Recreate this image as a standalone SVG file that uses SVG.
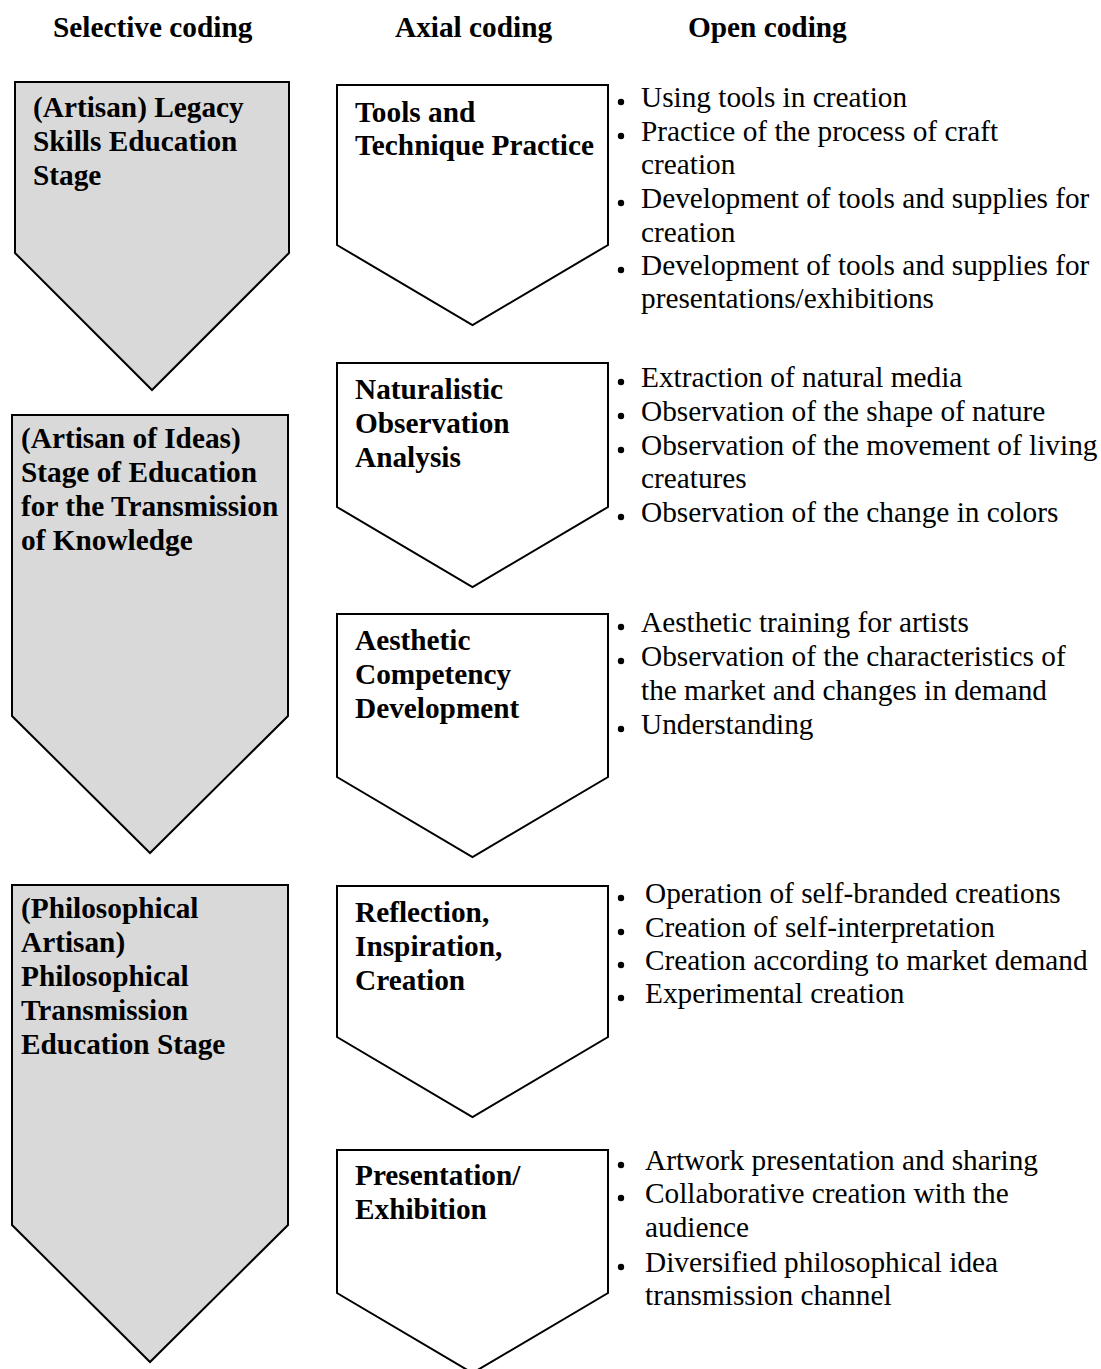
<svg xmlns="http://www.w3.org/2000/svg" width="1101" height="1369" viewBox="0 0 1101 1369">
<style>
.hd{font-family:"Liberation Serif","Times New Roman",serif;font-weight:bold;font-size:29.3px;fill:#000}
.b{font-family:"Liberation Serif","Times New Roman",serif;font-weight:bold;font-size:29.3px;fill:#000}
.t{font-family:"Liberation Serif","Times New Roman",serif;font-size:29.3px;fill:#000}
.sel{fill:#d9d9d9;stroke:#000;stroke-width:2;stroke-linejoin:miter}
.ax{fill:#fff;stroke:#000;stroke-width:2;stroke-linejoin:miter}
.dot{fill:#000}
</style>
<rect width="1101" height="1369" fill="#fff"/>
<g id="headers">
<text class="hd" x="53" y="37">Selective coding</text>
<text class="hd" x="395" y="37">Axial coding</text>
<text class="hd" x="688" y="37">Open coding</text>
</g>
<g id="connectors"></g>
<g id="sel1">
<polygon class="sel" points="15,82 289,82 289,253 152,390 15,253"/>
<text class="b" x="33" y="117">(Artisan) Legacy</text>
<text class="b" x="33" y="151">Skills Education</text>
<text class="b" x="33" y="185">Stage</text>
</g>
<g id="sel2">
<polygon class="sel" points="12,415 288,415 288,716 150,853 12,716"/>
<text class="b" x="21" y="448">(Artisan of Ideas)</text>
<text class="b" x="21" y="482">Stage of Education</text>
<text class="b" x="21" y="516">for the Transmission</text>
<text class="b" x="21" y="550">of Knowledge</text>
</g>
<g id="sel3">
<polygon class="sel" points="12,885 288,885 288,1225 150,1362 12,1225"/>
<text class="b" x="21" y="918">(Philosophical</text>
<text class="b" x="21" y="952">Artisan)</text>
<text class="b" x="21" y="986">Philosophical</text>
<text class="b" x="21" y="1020">Transmission</text>
<text class="b" x="21" y="1054">Education Stage</text>
</g>
<g id="ax1">
<polygon class="ax" points="337,85 608,85 608,245 472.5,325 337,245"/>
<text class="b" x="355" y="122">Tools and</text>
<text class="b" x="355" y="155">Technique Practice</text>
</g>
<g id="ax2">
<polygon class="ax" points="337,363 608,363 608,507 472.5,587 337,507"/>
<text class="b" x="355" y="399">Naturalistic</text>
<text class="b" x="355" y="433">Observation</text>
<text class="b" x="355" y="467">Analysis</text>
</g>
<g id="ax3">
<polygon class="ax" points="337,614 608,614 608,777 472.5,857 337,777"/>
<text class="b" x="355" y="650">Aesthetic</text>
<text class="b" x="355" y="684">Competency</text>
<text class="b" x="355" y="718">Development</text>
</g>
<g id="ax4">
<polygon class="ax" points="337,886 608,886 608,1037 472.5,1117 337,1037"/>
<text class="b" x="355" y="922">Reflection,</text>
<text class="b" x="355" y="956">Inspiration,</text>
<text class="b" x="355" y="990">Creation</text>
</g>
<g id="ax5">
<polygon class="ax" points="337,1150 608,1150 608,1293 472.5,1373 337,1293"/>
<text class="b" x="355" y="1185">Presentation/</text>
<text class="b" x="355" y="1219">Exhibition</text>
</g>
<g id="open1">
<circle class="dot" cx="621" cy="102" r="3.2"/>
<text class="t" x="641" y="107">Using tools in creation</text>
<circle class="dot" cx="621" cy="136" r="3.2"/>
<text class="t" x="641" y="141">Practice of the process of craft</text>
<text class="t" x="641" y="174">creation</text>
<circle class="dot" cx="621" cy="203" r="3.2"/>
<text class="t" x="641" y="208">Development of tools and supplies for</text>
<text class="t" x="641" y="242">creation</text>
<circle class="dot" cx="621" cy="270" r="3.2"/>
<text class="t" x="641" y="275">Development of tools and supplies for</text>
<text class="t" x="641" y="308">presentations/exhibitions</text>
</g>
<g id="open2">
<circle class="dot" cx="621" cy="382" r="3.2"/>
<text class="t" x="641" y="387">Extraction of natural media</text>
<circle class="dot" cx="621" cy="416" r="3.2"/>
<text class="t" x="641" y="421">Observation of the shape of nature</text>
<circle class="dot" cx="621" cy="450" r="3.2"/>
<text class="t" x="641" y="455">Observation of the movement of living</text>
<text class="t" x="641" y="488">creatures</text>
<circle class="dot" cx="621" cy="517" r="3.2"/>
<text class="t" x="641" y="522">Observation of the change in colors</text>
</g>
<g id="open3">
<circle class="dot" cx="621" cy="627" r="3.2"/>
<text class="t" x="641" y="632">Aesthetic training for artists</text>
<circle class="dot" cx="621" cy="661" r="3.2"/>
<text class="t" x="641" y="666">Observation of the characteristics of</text>
<text class="t" x="641" y="700">the market and changes in demand</text>
<circle class="dot" cx="621" cy="729" r="3.2"/>
<text class="t" x="641" y="734">Understanding</text>
</g>
<g id="open4">
<circle class="dot" cx="621" cy="898" r="3.2"/>
<text class="t" x="645" y="903">Operation of self-branded creations</text>
<circle class="dot" cx="621" cy="932" r="3.2"/>
<text class="t" x="645" y="937">Creation of self-interpretation</text>
<circle class="dot" cx="621" cy="965" r="3.2"/>
<text class="t" x="645" y="970">Creation according to market demand</text>
<circle class="dot" cx="621" cy="998" r="3.2"/>
<text class="t" x="645" y="1003">Experimental creation</text>
</g>
<g id="open5">
<circle class="dot" cx="621" cy="1165" r="3.2"/>
<text class="t" x="645" y="1170">Artwork presentation and sharing</text>
<circle class="dot" cx="621" cy="1198" r="3.2"/>
<text class="t" x="645" y="1203">Collaborative creation with the</text>
<text class="t" x="645" y="1237">audience</text>
<circle class="dot" cx="621" cy="1267" r="3.2"/>
<text class="t" x="645" y="1272">Diversified philosophical idea</text>
<text class="t" x="645" y="1305">transmission channel</text>
</g>
</svg>
